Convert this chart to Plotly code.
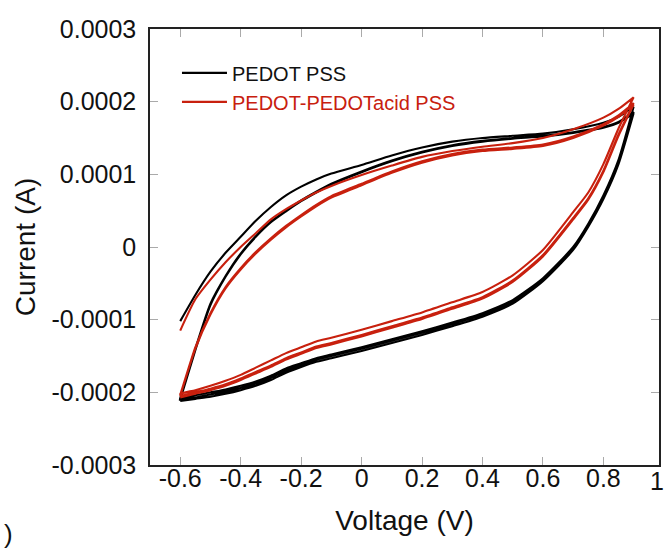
import plotly.graph_objects as go

# ---- data (current values in units of 1e-4 A) ----
v_up = [-0.6, -0.55, -0.5, -0.45, -0.4, -0.35, -0.3, -0.25, -0.2, -0.15, -0.1,
        0.0, 0.1, 0.2, 0.3, 0.4, 0.5, 0.6, 0.7, 0.8, 0.85, 0.9]
v_down = [0.9, 0.85, 0.8, 0.75, 0.7, 0.6, 0.5, 0.4, 0.3, 0.2, 0.1, 0.0,
          -0.1, -0.15, -0.2, -0.25, -0.3, -0.35, -0.4, -0.45, -0.5, -0.55, -0.6]

# PEDOT PSS
black_up_1 = [-1.02, -0.66, -0.34, -0.08, 0.14, 0.36, 0.55, 0.71, 0.83, 0.93, 1.01,
              1.13, 1.26, 1.37, 1.45, 1.50, 1.53, 1.56, 1.62, 1.71, 1.79, 1.93]
black_down_1 = [1.93, 1.20, 0.71, 0.32, 0.00, -0.43, -0.73, -0.91, -1.04, -1.16, -1.27, -1.38,
                -1.48, -1.53, -1.60, -1.67, -1.77, -1.85, -1.91, -1.96, -2.00, -2.04, -2.08]
black_up_2 = [-2.08, -1.40, -0.78, -0.40, -0.09, 0.15, 0.35, 0.50, 0.64, 0.76, 0.87,
              1.04, 1.19, 1.31, 1.40, 1.46, 1.50, 1.53, 1.58, 1.65, 1.72, 1.86]
black_down_2 = [1.86, 1.16, 0.68, 0.30, -0.02, -0.45, -0.75, -0.93, -1.06, -1.18, -1.29, -1.40,
                -1.50, -1.55, -1.62, -1.70, -1.80, -1.88, -1.94, -1.99, -2.03, -2.07, -2.10]
black_up_3 = [-2.10, -1.42, -0.80, -0.41, -0.10, 0.14, 0.34, 0.49, 0.63, 0.75, 0.86,
              1.03, 1.18, 1.30, 1.39, 1.45, 1.49, 1.52, 1.57, 1.64, 1.71, 1.84]
black_down_3 = [1.84, 1.14, 0.66, 0.28, -0.04, -0.47, -0.78, -0.96, -1.09, -1.21, -1.32, -1.43,
                -1.53, -1.58, -1.65, -1.73, -1.83, -1.91, -1.97, -2.02, -2.06, -2.09, -2.12]

# PEDOT-PEDOTacid PSS
red_up_1 = [-1.15, -0.72, -0.45, -0.21, 0.00, 0.19, 0.38, 0.52, 0.64, 0.75, 0.84,
            0.99, 1.12, 1.24, 1.32, 1.38, 1.43, 1.50, 1.62, 1.78, 1.90, 2.06]
red_down_1 = [2.06, 1.63, 1.14, 0.75, 0.48, -0.04, -0.39, -0.62, -0.76, -0.90, -1.02, -1.14,
              -1.25, -1.30, -1.38, -1.46, -1.56, -1.66, -1.76, -1.84, -1.91, -1.97, -2.02]
red_up_2 = [-2.03, -1.38, -0.91, -0.55, -0.29, -0.07, 0.12, 0.29, 0.44, 0.58, 0.70,
            0.87, 1.04, 1.18, 1.28, 1.34, 1.37, 1.41, 1.52, 1.69, 1.81, 1.98]
red_down_2 = [1.98, 1.55, 1.05, 0.67, 0.40, -0.11, -0.46, -0.69, -0.83, -0.97, -1.09, -1.21,
              -1.32, -1.37, -1.45, -1.53, -1.63, -1.72, -1.81, -1.89, -1.95, -2.00, -2.05]
red_up_3 = [-2.05, -1.40, -0.93, -0.57, -0.31, -0.09, 0.10, 0.27, 0.42, 0.56, 0.68,
            0.85, 1.02, 1.16, 1.26, 1.32, 1.35, 1.39, 1.50, 1.67, 1.79, 1.96]
red_down_3 = [1.96, 1.53, 1.03, 0.65, 0.38, -0.13, -0.48, -0.71, -0.85, -0.99, -1.11, -1.23,
              -1.34, -1.39, -1.47, -1.55, -1.65, -1.74, -1.83, -1.91, -1.97, -2.02, -2.07]

x_range = [-0.7, 0.984]
x_ticks = [-0.6, -0.4, -0.2, 0, 0.2, 0.4, 0.6, 0.8]
x_tick_text = ["-0.6", "-0.4", "-0.2", "0", "0.2", "0.4", "0.6", "0.8"]
x_last_tick_text = "1"
y_ticks = [-0.0003, -0.0002, -0.0001, 0, 0.0001, 0.0002, 0.0003]
y_tick_text = ["-0.0003", "-0.0002", "-0.0001", "0", "0.0001", "0.0002", "0.0003"]

BLACK = "#000000"
RED = "#c8200e"
UNIT = 1e-4


def build(ups, downs):
    xs, ys = [], []
    for u, d in zip(ups, downs):
        xs += v_up + v_down
        ys += [val * UNIT for val in u] + [val * UNIT for val in d]
    return xs, ys


bx, by = build([black_up_1, black_up_2, black_up_3], [black_down_1, black_down_2, black_down_3])
rx, ry = build([red_up_1, red_up_2, red_up_3], [red_down_1, red_down_2, red_down_3])

fig = go.Figure()
fig.add_trace(go.Scatter(x=bx, y=by, mode="lines", name="PEDOT PSS",
                         line=dict(color=BLACK, width=2.1, shape="spline", smoothing=0.6)))
fig.add_trace(go.Scatter(x=rx, y=ry, mode="lines",
                         name="<span style='color:%s'>PEDOT-PEDOTacid PSS</span>" % RED,
                         line=dict(color=RED, width=2.1, shape="spline", smoothing=0.6)))

font_family = "Arial, Liberation Sans, sans-serif"
axis_common = dict(showgrid=False, zeroline=False, showline=True, linecolor="#222222",
                   linewidth=1.5, mirror="ticks", ticks="inside", ticklen=8,
                   tickcolor="#aaaaaa", tickwidth=1,
                   tickfont=dict(family=font_family, size=25, color="#111111"))

fig.update_layout(
    width=668, height=550,
    margin=dict(l=150, r=7, t=29, b=85),
    paper_bgcolor="white", plot_bgcolor="white",
    font=dict(family=font_family, color="#111111"),
    showlegend=True,
    legend=dict(x=0.053, y=0.944, xanchor="left", yanchor="top",
                bgcolor="rgba(0,0,0,0)", font=dict(family=font_family, size=20, color="#111111"),
                tracegroupgap=0, itemwidth=45),
    xaxis=dict(range=x_range, tickvals=x_ticks, ticktext=x_tick_text,
               ticklabelstandoff=-10,
               title=dict(text="Voltage (V)", font=dict(family=font_family, size=28), standoff=20),
               **axis_common),
    yaxis=dict(range=[-0.0003, 0.0003], tickvals=y_ticks, ticktext=y_tick_text,
               ticklabelstandoff=7,
               title=dict(text="Current (A)", font=dict(family=font_family, size=28), standoff=8),
               **axis_common),
    annotations=[
        dict(text=x_last_tick_text, xref="paper", yref="paper", x=1.0135, y=0.0,
             xanchor="right", yanchor="top", showarrow=False,
             font=dict(family=font_family, size=25, color="#111111")),
        dict(text=")", xref="paper", yref="paper", x=-0.2905, y=-0.158,
             xanchor="left", yanchor="middle", showarrow=False,
             font=dict(family=font_family, size=26, color="#111111")),
    ],
)

fig.write_html("out.html", config={"displayModeBar": False},
               post_script="document.body.style.margin='0px';")
